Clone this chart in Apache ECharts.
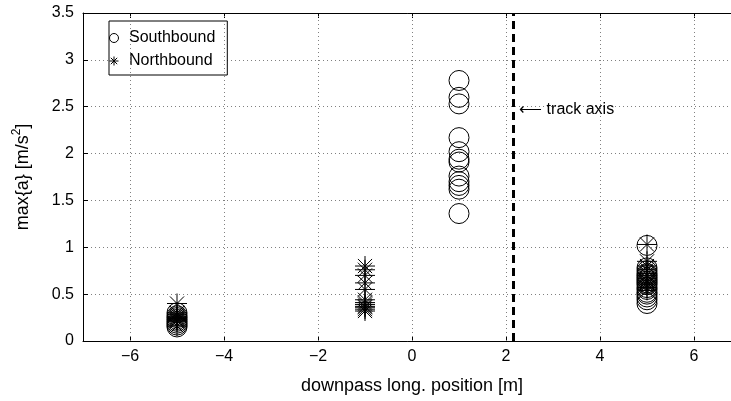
<!DOCTYPE html>
<html>
<head>
<meta charset="utf-8">
<title>max{a} vs downpass long. position</title>
<script src="https://cdn.jsdelivr.net/npm/echarts@6/dist/echarts.min.js"></script>
<style>
  html, body { margin: 0; padding: 0; background: #fff; }
  #chart { width: 731px; height: 401px; }
</style>
</head>
<body>
<div id="chart"></div>
<script>
// Peak accelerations per measurement position [m, m/s^2]
const southboundPos = [
  -5, -5, -5, -5, -5, -5, -5, -5,
  1, 1, 1, 1, 1, 1, 1, 1, 1, 1, 1, 1,
  5, 5, 5, 5, 5, 5, 5, 5, 5, 5, 5, 5, 5, 5, 5, 5, 5
];
const southboundAcc = [
  0.30, 0.27, 0.25, 0.23, 0.21, 0.19, 0.17, 0.15,
  2.78, 2.60, 2.53, 2.17, 2.02, 1.94, 1.91, 1.76, 1.70, 1.66, 1.62, 1.36,
  1.02, 0.78, 0.75, 0.72, 0.70, 0.68, 0.66, 0.64, 0.62, 0.60, 0.57, 0.55, 0.52, 0.50, 0.47, 0.44, 0.40
];
const northboundPos = [
  -5, -5, -5, -5, -5, -5, -5, -5, -5, -5,
  -1, -1, -1, -1, -1, -1, -1, -1, -1, -1, -1, -1,
  5, 5, 5, 5, 5, 5, 5, 5, 5, 5, 5, 5
];
const northboundAcc = [
  0.40, 0.30, 0.28, 0.26, 0.25, 0.24, 0.23, 0.22, 0.21, 0.16,
  0.80, 0.76, 0.70, 0.62, 0.55, 0.44, 0.41, 0.39, 0.37, 0.36, 0.34, 0.32,
  1.03, 0.85, 0.80, 0.76, 0.72, 0.70, 0.67, 0.64, 0.62, 0.60, 0.57, 0.54
];
const xTickValues = [-6, -4, -2, 0, 2, 4, 6];
const trackAxisPos = 2.15;
const trackLabelAt = [2.28, 2.47];

const pairs = (xs, ys) => xs.map((x, i) => [x, ys[i]]);
const asterisk = 'path://M0,-10L0,10M-10,0L10,0M-7.07,-7.07L7.07,7.07M-7.07,7.07L7.07,-7.07';
const font = '"Liberation Sans", Arial, Helvetica, sans-serif';
const minus = v => String(v).replace('-', '\u2212');

const chart = echarts.init(document.getElementById('chart'), null, { renderer: 'canvas' });

const noHover = { disabled: true };

chart.setOption({
  animation: false,
  backgroundColor: '#fff',
  textStyle: { fontFamily: font, color: '#000' },
  grid: { left: 83, top: 13, right: -10, bottom: 60, outerBoundsMode: 'none', containLabel: false },
  legend: {
    data: ['Southbound', 'Northbound'],
    orient: 'vertical',
    left: 109,
    top: 21,
    padding: [8, 12, 5, 0],
    itemGap: 5,
    itemWidth: 20,
    itemHeight: 9,
    backgroundColor: '#fff',
    borderColor: '#000',
    borderWidth: 1,
    borderRadius: 0,
    selectedMode: false,
    itemStyle: { borderWidth: 1, borderColor: '#000', color: 'rgba(0,0,0,0)' },
    textStyle: { fontFamily: font, fontSize: 16, lineHeight: 18, color: '#000' }
  },
  xAxis: [
    {
      type: 'value',
      min: -7,
      max: 7,
      position: 'bottom',
      name: 'downpass long. position [m]',
      nameLocation: 'middle',
      nameGap: 36,
      nameTextStyle: { fontFamily: font, fontSize: 18, color: '#000' },
      axisLine: { show: true, lineStyle: { color: '#000', width: 1 } },
      axisTick: { show: true, inside: true, length: 5, customValues: xTickValues, lineStyle: { color: '#000' } },
      axisLabel: { show: true, customValues: xTickValues, margin: 8, fontFamily: font, fontSize: 16, color: '#000', formatter: minus },
      splitLine: { show: false }
    },
    {
      type: 'value',
      min: -7,
      max: 7,
      position: 'top',
      axisLine: { show: true, onZero: false, lineStyle: { color: '#000', width: 1 } },
      axisTick: { show: true, inside: true, length: 5, customValues: xTickValues, lineStyle: { color: '#000' } },
      axisLabel: { show: false },
      splitLine: { show: false }
    }
  ],
  yAxis: {
    type: 'value',
    min: 0,
    max: 3.5,
    interval: 0.5,
    name: 'max{a} [m/s{sup|2}]',
    nameLocation: 'middle',
    nameRotate: 90,
    nameGap: 48,
    nameTextStyle: {
      fontFamily: font,
      fontSize: 18,
      lineHeight: 24,
      color: '#000',
      rich: {
        sup: { fontFamily: font, fontSize: 12, lineHeight: 12, verticalAlign: 'top', color: '#000' }
      }
    },
    axisLine: { show: true, onZero: false, lineStyle: { color: '#000', width: 1 } },
    axisTick: { show: true, inside: true, length: 5, lineStyle: { color: '#000' } },
    axisLabel: { margin: 9, fontFamily: font, fontSize: 16, color: '#000' },
    splitLine: { show: true, lineStyle: { color: '#808080', width: 1, type: [1, 3] } }
  },
  series: [
    {
      // vertical grid lines and the track axis reference line
      name: 'guides',
      type: 'scatter',
      data: [],
      silent: true,
      z: 1,
      markLine: {
        silent: true,
        symbol: ['none', 'none'],
        animation: false,
        label: { show: false },
        emphasis: noHover,
        lineStyle: { color: '#808080', width: 1, type: [1, 3] },
        data: xTickValues.map(v => ({ xAxis: v }))
          .concat([{ xAxis: trackAxisPos, lineStyle: { color: '#000', width: 3, type: [8, 5] } }])
      }
    },
    {
      name: 'Southbound',
      type: 'scatter',
      data: pairs(southboundPos, southboundAcc),
      symbol: 'circle',
      symbolSize: 20,
      silent: true,
      z: 3,
      itemStyle: { color: 'rgba(0,0,0,0)', borderColor: '#000', borderWidth: 1, opacity: 1 },
      emphasis: noHover
    },
    {
      name: 'Northbound',
      type: 'scatter',
      data: pairs(northboundPos, northboundAcc),
      symbol: asterisk,
      symbolSize: 20,
      silent: true,
      z: 4,
      itemStyle: { color: 'rgba(0,0,0,0)', borderColor: '#000', borderWidth: 1, opacity: 1 },
      emphasis: noHover
    },
    {
      name: 'track axis',
      type: 'scatter',
      data: [trackLabelAt],
      symbolSize: 0,
      silent: true,
      z: 5,
      label: {
        show: true,
        position: 'right',
        distance: 0,
        formatter: '\u27F5 track axis',
        fontFamily: font,
        fontSize: 16,
        color: '#000',
        opacity: 1
      },
      emphasis: noHover
    }
  ]
});
</script>
</body>
</html>
